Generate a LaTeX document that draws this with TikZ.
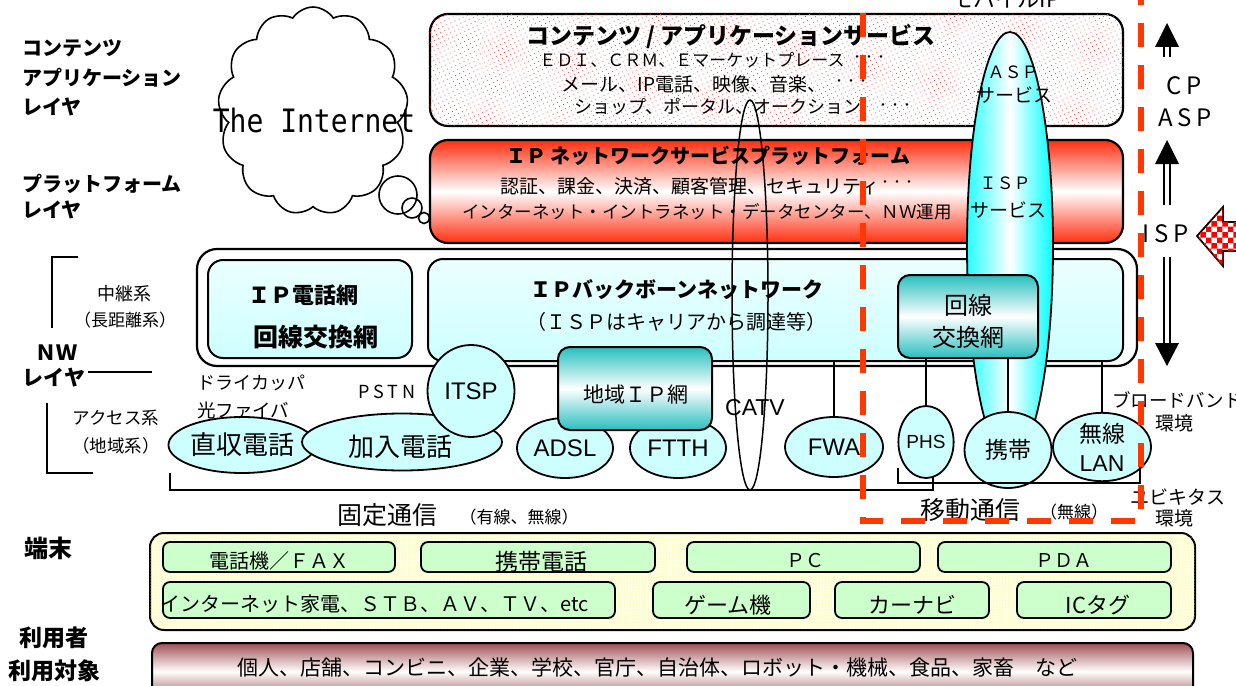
\documentclass[tikz,border=0pt]{standalone}
\usepackage{fontspec}
\setmainfont{Noto Sans CJK JP}
\newfontfamily\jpsp[LetterSpace=20]{Noto Sans CJK JP}
\newfontfamily\arialf{Liberation Sans}
\newfontfamily\monof{DejaVu Sans Mono}
\usetikzlibrary{shapes.geometric,shapes.symbols,patterns,patterns.meta,calc}
\newcommand\fsz[1]{\fontsize{#1}{#1}\selectfont}
\definecolor{dashred}{RGB}{255,55,0}
\definecolor{pred}{RGB}{255,45,15}
\definecolor{tealc}{RGB}{40,190,190}
\definecolor{lcyan}{RGB}{205,255,255}
\definecolor{bbtop}{RGB}{235,255,255}
\definecolor{bbbot}{RGB}{205,255,255}
\definecolor{tgreen}{RGB}{204,255,204}
\definecolor{tyellow}{RGB}{255,255,225}
\definecolor{ubrown}{RGB}{160,80,85}
\begin{document}
\begin{tikzpicture}[x=1pt,y=-1pt,
  box/.style={draw, line width=2.2pt, inner sep=0pt},
  txt/.style={inner sep=0pt},
  oval/.style={ellipse, draw, line width=1.8pt, fill=lcyan, inner sep=0pt},
  tbox/.style={draw, line width=1.8pt, rounded corners=7pt, fill=tgreen, inner sep=0pt},
  thin/.style={line width=1.5pt},
  lab/.style={inner sep=0pt, font=\bfseries\fsz{20}, anchor=west}]
\useasboundingbox (0,0) rectangle (1236,685);
\clip (0,0) rectangle (1236,685);

% left labels
\node[lab] (l1) at (22,48) {コンテンツ};
\node[lab] (l2) at (22,78) {アプリケーション};
\node[lab] (l3) at (22,107) {レイヤ};
\node[lab] (l4) at (22,184) {プラットフォーム};
\node[lab] (l5) at (22,210) {レイヤ};
\node[txt, font=\bfseries\fsz{21}] (nw1) at (56,353) {ＮＷ};
\node[txt, font=\bfseries\fsz{21}] (nw2) at (54,378) {レイヤ};
\node[txt, font=\fsz{18}] (ch1) at (124,294) {中継系};
\node[txt, font=\fsz{17}] (ch2) at (125,320) {（長距離系）};
\node[txt, font=\fsz{17.5}] (ac1) at (116,418) {アクセス系};
\node[txt, font=\fsz{17.5}] (ac2) at (116,446) {（地域系）};
\coordinate (u1) at (78,257); \coordinate (u2) at (52,257); \coordinate (u3) at (52,328);
\draw[thin] (u1) -- (u2) -- (u3);
\coordinate (n1) at (88,372); \coordinate (n2) at (152,372);
\draw[thin] (n1) -- (n2);
\coordinate (a1) at (47,403); \coordinate (a2) at (47,473); \coordinate (a3) at (93,473);
\draw[thin] (a1) -- (a2) -- (a3);
\node[txt, font=\bfseries\fsz{24}] (tm) at (48,548) {端末};
\node[txt, font=\bfseries\fsz{23}] (ri1) at (54,638) {利用者};
\node[txt, font=\bfseries\fsz{23}] (ri2) at (55,671) {利用対象};

% cloud
\node[cloud, draw, line width=1.6pt, cloud puffs=13, cloud puff arc=115, minimum width=190, minimum height=208, inner sep=0pt, fill=white] (cloud) at (313,111) {};
\node[circle, draw, line width=1.6pt, minimum size=38, inner sep=0pt] (b1) at (398,195) {};
\node[circle, draw, line width=1.6pt, minimum size=20, inner sep=0pt] (b2) at (412,208) {};
\node[circle, draw, line width=1.6pt, minimum size=11, inner sep=0pt] (b3) at (424,218) {};
\node[txt, font=\monof\fsz{28}] (inet) at (314,120) {\scalebox{1}[1.15]{The Internet}};

% content box
\node[box, rounded corners=18pt, minimum width=693, minimum height=112, fill=white,
  postaction={pattern={Dots[distance=4.5pt,radius=0.55pt,angle=25]}, pattern color=red!75}] (cont) at (776.5,70) {};
\node[txt, font=\bfseries\fsz{23}] (ct1) at (731,37) {コンテンツ / アプリケーションサービス};
\node[txt, font=\fsz{17}] (ct2) at (692,60) {ＥＤＩ、ＣＲＭ、Ｅマーケットプレース};
\node[txt, font=\fsz{12}] (ct2d) at (869,59) {・・・};
\node[txt, font=\fsz{19}] (ct3) at (694,84) {メール、IP電話、映像、音楽、};
\node[txt, font=\fsz{12}] (ct3d) at (851,83) {・・・};
\node[txt, font=\fsz{18}] (ct4) at (718,107) {ショップ、ポータル、オークション};
\node[txt, font=\fsz{12}] (ct4d) at (895,107) {・・・};

% platform box
\node[box, rounded corners=18pt, minimum width=693, minimum height=103, top color=pred, bottom color=pred, middle color=white] (plat) at (776.5,191.5) {};
\node[txt, font=\bfseries\fsz{20}] (pt1) at (708,156) {ＩＰ ネットワークサービスプラットフォーム};
\node[txt, font=\fsz{19}] (pt2) at (690,186) {認証、課金、決済、顧客管理、セキュリティ};
\node[txt, font=\fsz{12}] (pt2d) at (897,184) {・・・};
\node[txt, font=\fsz{17.5}] (pt3) at (707,212) {インターネット・イントラネット・データセンター、ＮＷ運用};

% NW layer
\node[box, rounded corners=20pt, minimum width=940, minimum height=117, fill=white] (nw) at (667,307.5) {};
\node[box, line width=2pt, rounded corners=15pt, minimum width=204, minimum height=98, top color=bbtop, bottom color=bbbot] (ipt) at (310,309) {};
\node[txt, font=\bfseries\fsz{22}] (ipt1) at (303,295) {ＩＰ電話網};
\node[txt, font=\bfseries\fsz{25}] (ipt2) at (316,337) {回線交換網};
\node[box, line width=2pt, rounded corners=15pt, minimum width=695, minimum height=102, top color=bbtop, bottom color=bbbot] (bb) at (775.5,310) {};
\node[txt, font=\bfseries\fsz{21}] (bb1) at (677,290) {ＩＰバックボーンネットワーク};
\node[txt, font=\fsz{20}] (bb2) at (676,322) {（ＩＳＰはキャリアから調達等）};

% mobile ellipse
\node[ellipse, draw, line width=1.8pt, minimum width=86, minimum height=428, inner sep=0pt,
  left color=cyan!85, right color=cyan, middle color=white] (mob) at (1010,246) {};
\node[txt, font=\fsz{17}] (m1) at (1013,72) {ＡＳＰ};
\node[txt, font=\fsz{19}] (m2) at (1014,95) {サービス};
\node[txt, font=\fsz{17}] (m3) at (1005,183) {ＩＳＰ};
\node[txt, font=\fsz{19}] (m4) at (1008,210) {サービス};

% CATV ellipse
\node[ellipse, draw, line width=1.5pt, minimum width=36, minimum height=390, inner sep=0pt] (catv) at (750,295) {};
\node[txt, font=\arialf\fsz{23}] (catvt) at (755,408) {CATV};

% teal boxes
\node[box, line width=2pt, rounded corners=12pt, minimum width=140, minimum height=83, top color=tealc, bottom color=tealc, middle color=white] (kks) at (968,316.5) {};
\node[txt, font=\fsz{24}] (kks1) at (968,305) {回線};
\node[txt, font=\fsz{24}] (kks2) at (968,337) {交換網};

% ovals
\node[oval, minimum width=120, minimum height=56, font=\fsz{26}] (zs) at (242,445) {直収電話};
\node[oval, minimum width=200, minimum height=57] (kn) at (402,442) {};
\node[txt, font=\fsz{26}] (knt) at (400,447) {加入電話};
\node[oval, minimum width=87, minimum height=92, font=\arialf\fsz{24}] (itsp) at (471,391) {ITSP};
\node[oval, minimum width=96, minimum height=60, font=\arialf\fsz{24}] (adsl) at (565,448) {ADSL};
\node[oval, minimum width=96, minimum height=60, font=\arialf\fsz{24}] (ftth) at (678,448) {FTTH};
\node[box, line width=2pt, rounded corners=12pt, minimum width=154, minimum height=83, top color=tealc, bottom color=tealc, middle color=white] (chiki) at (635,388.5) {};
\node[txt, font=\fsz{21}] (chikit) at (636,395) {地域ＩＰ網};
\node[oval, minimum width=98, minimum height=60, font=\arialf\fsz{24}] (fwa) at (834,447) {FWA};
\node[oval, minimum width=50, minimum height=72, font=\arialf\fsz{19}] (phs) at (926,442) {PHS};
\node[oval, minimum width=87, minimum height=76, font=\fsz{23}] (kt) at (1008,450) {携帯};
\node[oval, minimum width=98, minimum height=62, align=center, font=\fontsize{23}{29}\selectfont] (lan) at (1102,447) {無線\\{\arialf LAN}};

% connectors
\draw[thin] (fwa.north) -- (fwa.north |- bb.south);
\draw[thin] (phs.north) -- (phs.north |- kks.south);
\draw[thin] (kt.north) -- (kt.north |- kks.south);
\draw[thin] (lan.north) -- (lan.north |- bb.south);

% brackets
\coordinate (f1) at (170,473); \coordinate (f2) at (170,490); \coordinate (f3) at (933,490); \coordinate (f4) at (933,477);
\draw[thin] (f1) -- (f2) -- (f3) -- (f4);
\coordinate (g1) at (898,468); \coordinate (g2) at (898,483); \coordinate (g3) at (1140,483); \coordinate (g4) at (1140,467);
\draw[thin] (g1) -- (g2) -- (g3) -- (g4);

% lower labels
\node[txt, font=\fsz{18}, anchor=west] (dc) at (197,383) {ドライカッパ};
\node[txt, font=\fsz{18.5}, anchor=west] (hf) at (197,410) {光ファイバ};
\node[txt, font=\jpsp\fsz{18}] (pstn) at (387,392) {PSTN};
\node[txt, font=\fsz{25}] (kt1) at (387,515) {固定通信};
\node[txt, font=\fsz{17}] (kt2) at (519,517) {（有線、無線）};
\node[txt, font=\fsz{25}] (id1) at (970,510) {移動通信};
\node[txt, font=\fsz{17}] (id2) at (1074,512) {（無線）};
\node[txt, font=\fsz{18.5}, anchor=west] (bro1) at (1112,400) {ブロードバンド};
\node[txt, font=\fsz{19}] (bro2) at (1174,423) {環境};
\node[txt, font=\fsz{19}, anchor=west] (ubi1) at (1130,497) {ユビキタス};
\node[txt, font=\fsz{19}] (ubi2) at (1174,518) {環境};
\node[txt, font=\fsz{22}, anchor=base] (mip) at (1006,8) {モバイルIP};

% red dashed frame
\coordinate (d1) at (863,13); \coordinate (d2) at (863,521); \coordinate (d3) at (1141,521); \coordinate (d4) at (1141,-40);
\draw[dashred, line width=5.5pt, dash pattern=on 24pt off 18pt] (d1) -- (d2) -- (d3) -- (d4);

% right arrows
\coordinate (ar1) at (1167,23);
\fill (ar1) -- ++(-12,24) -- ++(24,0) -- cycle;
\draw[line width=1.6pt] (1164,47) -- (1164,57) (1170,47) -- (1170,57);
\coordinate (ar2) at (1167,140);
\fill (ar2) -- ++(-12,24) -- ++(24,0) -- cycle;
\draw[line width=1.6pt] (1164,163) -- (1164,205) (1170,163) -- (1170,205);
\coordinate (ar3) at (1167,366);
\fill (ar3) -- ++(-12,-23) -- ++(24,0) -- cycle;
\draw[line width=1.6pt] (1164,257) -- (1164,344) (1170,257) -- (1170,344);
\node[txt, font=\jpsp\fsz{24}] (cp) at (1184,86) {CP};
\node[txt, font=\jpsp\fsz{24}] (asp) at (1185,118) {ASP};
\node[txt, font=\jpsp\fsz{24}] (isp) at (1166,234) {ISP};

% big checkered arrow
\coordinate (ba) at (1197,236);
\path[fill=white, draw=black, line width=1.8pt, postaction={pattern=checkerboard, pattern color=red}]
  (ba) -- (1223,207) -- (1223,222) -- (1250,222) -- (1250,251) -- (1223,251) -- (1223,266) -- cycle;

% terminals
\node[box, line width=2pt, rounded corners=14pt, minimum width=1045, minimum height=97, fill=tyellow,
  postaction={pattern={Dots[distance=3pt,radius=0.5pt]}, pattern color=yellow!80!orange!60}] (term) at (672.5,581.5) {};
\node[tbox, minimum width=232, minimum height=30] (t1) at (279,557) {};
\node[txt, font=\fsz{20}] (t1t) at (279,561) {電話機／ＦＡＸ};
\node[tbox, minimum width=234, minimum height=30] (t2) at (538,557) {};
\node[txt, font=\fsz{23}] (t2t) at (541,562) {携帯電話};
\node[tbox, minimum width=233, minimum height=30] (t3) at (803.5,557) {};
\node[txt, font=\fsz{19}] (t3t) at (805,561) {ＰＣ};
\node[tbox, minimum width=233, minimum height=30] (t4) at (1054.5,557) {};
\node[txt, font=\fsz{19}] (t4t) at (1064,561) {ＰＤＡ};
\node[tbox, minimum width=452, minimum height=36] (t5) at (389,600) {};
\node[txt, font=\fsz{20}] (t5t) at (375,604) {インターネット家電、ＳＴＢ、ＡＶ、ＴＶ、etc};
\node[tbox, minimum width=157, minimum height=36] (t6) at (731.5,600) {};
\node[txt, font=\fsz{22}] (t6t) at (728,605) {ゲーム機};
\node[tbox, minimum width=154, minimum height=36] (t7) at (912,600) {};
\node[txt, font=\fsz{22}] (t7t) at (912,605) {カーナビ};
\node[tbox, minimum width=154, minimum height=36] (t8) at (1094,600) {};
\node[txt, font=\fsz{22}] (t8t) at (1098,605) {ICタグ};

% users
\node[box, line width=2pt, rounded corners=10pt, minimum width=1041, minimum height=57, top color=ubrown, bottom color=ubrown, middle color=white] (users) at (672.5,671.5) {};
\node[txt, font=\fsz{21}] (ust) at (657,667) {個人、店舗、コンビニ、企業、学校、官庁、自治体、ロボット・機械、食品、家畜　など};
\end{tikzpicture}
\end{document}
